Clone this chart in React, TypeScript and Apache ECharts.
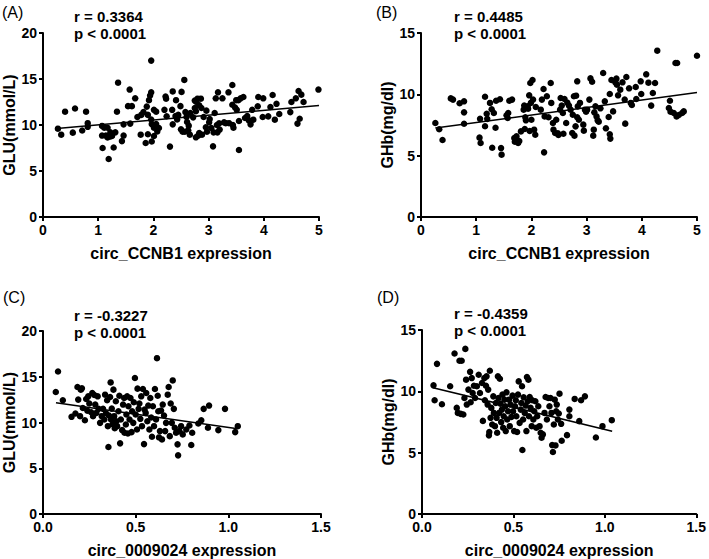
import React, { useEffect, useRef } from "react";
import * as echarts from "echarts";

// Panel A: circ_CCNB1 expression vs GLU(mmol/L)
const pointsA: number[][] = [
  [0.27, 9.6], [0.33, 8.95], [0.4, 11.45], [0.54, 9.17], [0.58, 11.8], [0.71, 9.4], [0.78, 11.45], [0.81, 10.2],
  [0.81, 9.8], [1.07, 9.9], [1.07, 8.85], [1.08, 7.5], [1.11, 9.7], [1.14, 8.85], [1.17, 9.7], [1.17, 8.65],
  [1.19, 6.3], [1.22, 9.2], [1.22, 8.75], [1.25, 8.8], [1.28, 7.55], [1.31, 9.2], [1.34, 11.45], [1.36, 14.6],
  [1.43, 8.25], [1.46, 8.85], [1.46, 10.07], [1.54, 12.05], [1.57, 13.85], [1.58, 10.15], [1.61, 12.05], [1.67, 12.9],
  [1.71, 10.87], [1.77, 8.95], [1.78, 11.1], [1.82, 11.4], [1.86, 8.05], [1.88, 12.0], [1.9, 9.0], [1.9, 11.1],
  [1.92, 12.7], [1.94, 13.2], [1.96, 13.55], [1.96, 17.0], [1.96, 10.6], [1.97, 10.1], [1.97, 8.2], [2.01, 8.8],
  [2.01, 9.7], [2.01, 11.65], [2.05, 11.45], [2.05, 10.1], [2.07, 9.3], [2.1, 9.67], [2.2, 11.65], [2.22, 13.1],
  [2.23, 12.85], [2.24, 10.95], [2.3, 7.65], [2.34, 11.65], [2.35, 13.65], [2.35, 10.07], [2.4, 10.97], [2.41, 12.7],
  [2.43, 10.6], [2.45, 11.1], [2.49, 12.05], [2.5, 9.53], [2.51, 13.6], [2.53, 9.27], [2.56, 14.9], [2.57, 9.27],
  [2.58, 11.4], [2.6, 10.87], [2.61, 10.33], [2.63, 9.42], [2.64, 9.93], [2.66, 8.95], [2.67, 11.3], [2.72, 10.83],
  [2.75, 11.85], [2.75, 12.65], [2.77, 11.5], [2.77, 8.66], [2.78, 12.5], [2.8, 12.86], [2.81, 8.84], [2.83, 12.14],
  [2.83, 9.13], [2.86, 12.86], [2.87, 11.85], [2.88, 8.95], [2.91, 10.87], [2.95, 9.75], [2.96, 11.56], [2.97, 9.27],
  [3.01, 10.29], [3.02, 10.65], [3.05, 9.67], [3.08, 7.68], [3.09, 9.2], [3.11, 11.3], [3.13, 12.9], [3.15, 10.0],
  [3.16, 9.2], [3.17, 13.55], [3.19, 10.18], [3.2, 9.5], [3.25, 12.9], [3.28, 10.29], [3.31, 10.2], [3.36, 13.55],
  [3.37, 10.2], [3.43, 12.2], [3.43, 14.35], [3.44, 10.0], [3.45, 9.7], [3.48, 11.9], [3.5, 12.7], [3.51, 11.65],
  [3.54, 12.7], [3.55, 10.43], [3.55, 7.28], [3.58, 12.9], [3.63, 13.05], [3.66, 10.76], [3.7, 10.97], [3.73, 10.5],
  [3.76, 10.07], [3.79, 11.65], [3.81, 10.58], [3.89, 12.03], [3.9, 13.05], [3.98, 10.87], [3.99, 12.9], [4.08, 10.94],
  [4.12, 11.95], [4.16, 13.26], [4.2, 10.58], [4.23, 12.3], [4.28, 11.2], [4.48, 11.4], [4.5, 12.5], [4.58, 12.9],
  [4.61, 10.15], [4.63, 13.7], [4.65, 10.68], [4.68, 13.3], [4.72, 12.5], [4.99, 13.85],
];

// Panel B: circ_CCNB1 expression vs GHb(mg/dl)
const pointsB: number[][] = [
  [0.26, 7.66], [0.33, 7.15], [0.39, 6.28], [0.54, 9.67], [0.58, 9.57], [0.7, 9.27], [0.78, 9.43], [0.78, 8.53],
  [0.78, 7.6], [1.06, 6.47], [1.08, 6.03], [1.07, 8.0], [1.16, 9.8], [1.16, 7.4], [1.19, 8.42], [1.2, 8.0],
  [1.25, 9.3], [1.28, 8.78], [1.29, 5.65], [1.32, 8.48], [1.35, 7.28], [1.36, 9.48], [1.43, 9.6], [1.45, 5.62],
  [1.46, 5.08], [1.55, 8.29], [1.57, 8.07], [1.58, 8.48], [1.6, 9.48], [1.65, 9.57], [1.69, 6.44], [1.7, 6.14],
  [1.73, 6.58], [1.76, 6.03], [1.78, 6.2], [1.81, 6.98], [1.86, 8.75], [1.87, 9.08], [1.88, 7.17], [1.89, 8.13],
  [1.9, 7.88], [1.93, 9.02], [1.94, 8.83], [1.96, 9.92], [1.97, 7.01], [1.98, 10.92], [1.99, 9.3], [2.0, 7.93],
  [2.02, 11.17], [2.03, 9.57], [2.05, 7.12], [2.07, 6.71], [2.08, 8.97], [2.17, 8.75], [2.19, 9.57], [2.22, 10.43],
  [2.23, 5.27], [2.24, 8.2], [2.28, 9.84], [2.31, 8.13], [2.35, 10.92], [2.36, 9.3], [2.39, 7.66], [2.4, 7.12],
  [2.43, 6.85], [2.45, 7.93], [2.48, 6.82], [2.49, 6.68], [2.52, 8.75], [2.53, 9.7], [2.55, 9.08], [2.57, 8.48],
  [2.58, 6.79], [2.6, 9.62], [2.63, 7.66], [2.65, 9.32], [2.68, 9.08], [2.71, 8.75], [2.74, 6.85], [2.75, 8.34],
  [2.77, 9.84], [2.78, 6.63], [2.8, 7.39], [2.81, 9.89], [2.83, 8.13], [2.83, 11.06], [2.84, 9.02], [2.86, 7.93],
  [2.88, 9.3], [2.94, 7.53], [2.95, 7.04], [2.97, 8.75], [2.99, 8.59], [3.01, 8.75], [3.05, 9.57], [3.07, 11.3],
  [3.1, 11.03], [3.12, 6.63], [3.13, 7.12], [3.14, 8.53], [3.16, 9.02], [3.18, 8.2], [3.2, 7.88], [3.22, 7.77],
  [3.25, 8.86], [3.3, 11.74], [3.33, 9.43], [3.35, 7.23], [3.4, 8.15], [3.42, 6.74], [3.43, 6.39], [3.42, 10.03],
  [3.45, 11.17], [3.48, 8.61], [3.52, 10.98], [3.54, 11.28], [3.55, 10.79], [3.57, 9.92], [3.61, 10.38], [3.65, 10.98],
  [3.69, 9.57], [3.7, 7.61], [3.72, 11.41], [3.77, 10.49], [3.8, 9.3], [3.82, 9.13], [3.89, 10.6], [3.9, 9.62],
  [3.98, 11.06], [3.99, 10.03], [4.08, 11.63], [4.12, 10.95], [4.17, 9.08], [4.2, 10.11], [4.24, 10.92], [4.28, 13.56],
  [4.51, 9.48], [4.49, 8.89], [4.52, 8.59], [4.58, 8.48], [4.61, 12.55], [4.64, 12.55], [4.63, 8.2], [4.67, 8.32],
  [4.73, 8.48], [4.76, 8.61], [5.0, 13.15],
];

// Panel C: circ_0009024 expression vs GLU(mmol/L)
const pointsC: number[][] = [
  [0.069, 13.33], [0.081, 15.58], [0.107, 12.43], [0.154, 10.62], [0.175, 10.98], [0.186, 13.88], [0.19, 12.5], [0.2, 10.69],
  [0.204, 13.59], [0.21, 13.73], [0.215, 11.59], [0.226, 10.25], [0.233, 12.57], [0.239, 11.3], [0.244, 12.86], [0.25, 12.07],
  [0.26, 11.12], [0.266, 13.22], [0.27, 10.69], [0.277, 13.0], [0.282, 11.96], [0.288, 11.05], [0.295, 12.86], [0.3, 11.49],
  [0.308, 9.96], [0.317, 10.69], [0.324, 11.49], [0.331, 10.33], [0.335, 13.04], [0.34, 11.01], [0.346, 12.43], [0.35, 9.6],
  [0.353, 7.32], [0.356, 10.76], [0.362, 12.79], [0.365, 14.38], [0.367, 10.33], [0.371, 11.52], [0.376, 9.82], [0.38, 13.59],
  [0.384, 10.69], [0.387, 9.38], [0.393, 12.32], [0.396, 10.14], [0.4, 9.6], [0.407, 11.23], [0.412, 12.93], [0.416, 7.72],
  [0.42, 10.33], [0.427, 9.17], [0.432, 11.96], [0.438, 12.68], [0.44, 8.88], [0.447, 9.78], [0.45, 10.87], [0.454, 12.86],
  [0.458, 8.8], [0.461, 11.78], [0.467, 10.33], [0.472, 12.68], [0.478, 8.95], [0.481, 11.23], [0.487, 9.96], [0.49, 12.21],
  [0.496, 14.86], [0.5, 10.87], [0.507, 9.24], [0.51, 13.7], [0.516, 11.49], [0.52, 12.07], [0.525, 10.4], [0.53, 12.86],
  [0.534, 9.6], [0.539, 13.66], [0.545, 7.64], [0.548, 11.41], [0.554, 11.05], [0.557, 13.22], [0.563, 10.14], [0.568, 11.85],
  [0.574, 9.24], [0.579, 12.68], [0.584, 10.54], [0.588, 8.44], [0.593, 11.78], [0.599, 9.6], [0.604, 13.66], [0.61, 10.33],
  [0.615, 17.03], [0.619, 12.93], [0.622, 11.23], [0.626, 8.37], [0.631, 9.06], [0.637, 11.3], [0.642, 8.15], [0.646, 11.96],
  [0.653, 10.76], [0.659, 9.06], [0.664, 9.96], [0.673, 13.04], [0.678, 13.88], [0.684, 8.51], [0.689, 12.07], [0.695, 9.96],
  [0.7, 14.6], [0.706, 11.49], [0.711, 9.42], [0.718, 8.88], [0.726, 7.61], [0.729, 6.41], [0.736, 9.06], [0.745, 9.6],
  [0.754, 8.7], [0.773, 9.24], [0.79, 9.67], [0.8, 7.54], [0.805, 8.88], [0.838, 9.89], [0.854, 10.25], [0.867, 11.49],
  [0.89, 9.42], [0.896, 11.85], [0.946, 9.17], [0.982, 11.49], [1.037, 8.95], [1.051, 9.6],
];

// Panel D: circ_0009024 expression vs GHb(mg/dl)
const pointsD: number[][] = [
  [0.063, 10.49], [0.069, 9.27], [0.082, 12.24], [0.109, 8.95], [0.154, 10.41], [0.178, 13.08], [0.19, 8.65], [0.196, 8.24],
  [0.205, 12.49], [0.212, 8.16], [0.217, 12.49], [0.226, 8.11], [0.232, 9.46], [0.237, 13.46], [0.241, 10.95], [0.245, 8.92],
  [0.254, 10.14], [0.263, 11.59], [0.266, 9.11], [0.272, 11.08], [0.277, 9.86], [0.284, 10.46], [0.29, 9.46], [0.3, 10.41],
  [0.31, 11.35], [0.317, 9.86], [0.328, 10.68], [0.333, 7.59], [0.341, 11.08], [0.344, 9.27], [0.35, 10.46], [0.353, 11.22],
  [0.359, 8.92], [0.362, 10.14], [0.366, 6.41], [0.368, 6.68], [0.371, 11.68], [0.375, 7.84], [0.379, 8.65], [0.384, 7.3],
  [0.39, 9.59], [0.393, 8.24], [0.399, 7.16], [0.404, 9.05], [0.408, 7.84], [0.411, 6.62], [0.415, 11.22], [0.418, 9.46],
  [0.422, 8.24], [0.426, 11.03], [0.429, 9.0], [0.433, 7.49], [0.437, 8.51], [0.44, 9.73], [0.444, 7.03], [0.447, 7.97],
  [0.451, 9.32], [0.455, 8.78], [0.458, 6.76], [0.462, 9.92], [0.466, 7.7], [0.471, 8.38], [0.476, 9.32], [0.48, 7.16],
  [0.484, 8.92], [0.489, 7.92], [0.495, 9.65], [0.498, 8.38], [0.504, 6.76], [0.509, 8.78], [0.513, 9.27], [0.516, 7.97],
  [0.52, 6.68], [0.525, 9.73], [0.529, 10.81], [0.534, 7.43], [0.54, 8.51], [0.543, 9.05], [0.547, 10.41], [0.549, 5.22],
  [0.553, 7.7], [0.556, 9.51], [0.562, 8.24], [0.567, 8.84], [0.571, 6.76], [0.574, 11.16], [0.578, 9.19], [0.582, 10.95],
  [0.585, 7.97], [0.589, 9.54], [0.594, 8.65], [0.6, 7.16], [0.603, 9.27], [0.609, 7.7], [0.614, 8.38], [0.62, 9.19],
  [0.625, 7.03], [0.63, 7.97], [0.636, 8.78], [0.643, 7.16], [0.649, 6.62], [0.654, 6.22], [0.661, 6.49], [0.67, 8.24],
  [0.676, 9.54], [0.683, 7.7], [0.69, 9.46], [0.697, 8.78], [0.703, 9.46], [0.708, 8.24], [0.712, 5.62], [0.716, 5.05],
  [0.721, 7.3], [0.726, 9.32], [0.73, 5.59], [0.734, 8.38], [0.737, 8.92], [0.743, 7.7], [0.748, 8.19], [0.752, 9.81],
  [0.761, 7.35], [0.764, 5.97], [0.793, 6.43], [0.806, 8.51], [0.806, 7.97], [0.835, 9.38], [0.86, 7.57], [0.87, 9.27],
  [0.891, 9.59], [0.951, 6.24], [0.987, 7.16], [1.038, 7.65],
];

// Regression lines (endpoints)
const lineA: number[][] = [[0.25, 9.62], [5.0, 12.12]];
const lineB: number[][] = [[0.26, 7.25], [5.0, 10.15]];
const lineC: number[][] = [[0.07, 12.15], [1.05, 9.32]];
const lineD: number[][] = [[0.06, 10.3], [1.04, 6.75]];

const panelLetters = ["(A)", "(B)", "(C)", "(D)"];
const rTexts = ["r = 0.3364", "r = 0.4485", "r = -0.3227", "r = -0.4359"];
const pTexts = ["p < 0.0001", "p < 0.0001", "p < 0.0001", "p < 0.0001"];
const xNames = ["circ_CCNB1 expression", "circ_CCNB1 expression", "circ_0009024 expression", "circ_0009024 expression"];
const yNames = ["GLU(mmol/L)", "GHb(mg/dl)", "GLU(mmol/L)", "GHb(mg/dl)"];
const xMax = [5, 5, 1.5, 1.5];
const xInterval = [1, 1, 0.5, 0.5];
const yMax = [20, 15, 20, 15];
const yInterval = [5, 5, 5, 5];

const FONT = '"Liberation Sans", Arial, sans-serif';

export default function App() {
  const ref = useRef<HTMLDivElement>(null);
  useEffect(() => {
    document.body.style.margin = "0";
    if (!ref.current) return;
    const chart = echarts.init(ref.current, undefined, { renderer: "svg" });

    const grids = [
      { left: 43, top: 33, width: 276, height: 184 },
      { left: 421, top: 33, width: 276, height: 184 },
      { left: 43, top: 331, width: 278, height: 184 },
      { left: 422, top: 330, width: 276, height: 185 },
    ];
    const textPos = [
      { lx: 2, ly: 12, tx: 74, ry: 16, py: 33 },
      { lx: 376, ly: 12, tx: 454, ry: 16, py: 33 },
      { lx: 3, ly: 297, tx: 74, ry: 315, py: 332 },
      { lx: 377, ly: 297, tx: 454, ry: 313, py: 330 },
    ];
    const pts = [pointsA, pointsB, pointsC, pointsD];
    const lines = [lineA, lineB, lineC, lineD];

    const axisCommon = {
      axisLine: { show: true, lineStyle: { color: "#000", width: 2 } },
      axisTick: { show: true, length: 4, lineStyle: { color: "#000", width: 2 } },
      splitLine: { show: false },
      axisLabel: { color: "#000", fontSize: 14, fontWeight: "bold", fontFamily: FONT, margin: 6 },
      nameTextStyle: { color: "#000", fontSize: 16, fontWeight: "bold", fontFamily: FONT },
    };

    const xAxis = grids.map((_, i) => ({
      ...axisCommon,
      type: "value",
      gridIndex: i,
      min: 0,
      max: xMax[i],
      interval: xInterval[i],
      name: xNames[i],
      nameLocation: "middle",
      nameGap: 28,
      axisLabel: {
        ...axisCommon.axisLabel,
        formatter: (v: number) => (xInterval[i] < 1 ? v.toFixed(1) : String(v)),
      },
    }));
    const yAxis = grids.map((_, i) => ({
      ...axisCommon,
      type: "value",
      gridIndex: i,
      min: 0,
      max: yMax[i],
      interval: yInterval[i],
      name: yNames[i],
      nameLocation: "middle",
      nameGap: 26,
    }));

    const series: any[] = [];
    pts.forEach((p, i) => {
      series.push({
        type: "scatter",
        xAxisIndex: i,
        yAxisIndex: i,
        data: p,
        symbolSize: 6.5,
        itemStyle: { color: "#000", opacity: 1 },
        silent: true,
      });
      series.push({
        type: "line",
        xAxisIndex: i,
        yAxisIndex: i,
        data: lines[i],
        symbol: "none",
        lineStyle: { color: "#000", width: 1.5 },
        silent: true,
      });
    });

    const graphic: any[] = [];
    textPos.forEach((t, i) => {
      graphic.push({
        type: "text",
        x: t.lx,
        y: t.ly,
        style: { text: panelLetters[i], fontSize: 16, fontFamily: FONT, fill: "#000", verticalAlign: "middle" },
      });
      graphic.push({
        type: "text",
        x: t.tx,
        y: t.ry,
        style: { text: rTexts[i], fontSize: 15, fontWeight: "bold", fontFamily: FONT, fill: "#000", verticalAlign: "middle" },
      });
      graphic.push({
        type: "text",
        x: t.tx,
        y: t.py,
        style: { text: pTexts[i], fontSize: 15, fontWeight: "bold", fontFamily: FONT, fill: "#000", verticalAlign: "middle" },
      });
    });

    chart.setOption({
      animation: false,
      backgroundColor: "#fff",
      grid: grids,
      xAxis,
      yAxis,
      series,
      graphic,
    });
    return () => chart.dispose();
  }, []);
  return <div ref={ref} style={{ width: 709, height: 559 }} />;
}
